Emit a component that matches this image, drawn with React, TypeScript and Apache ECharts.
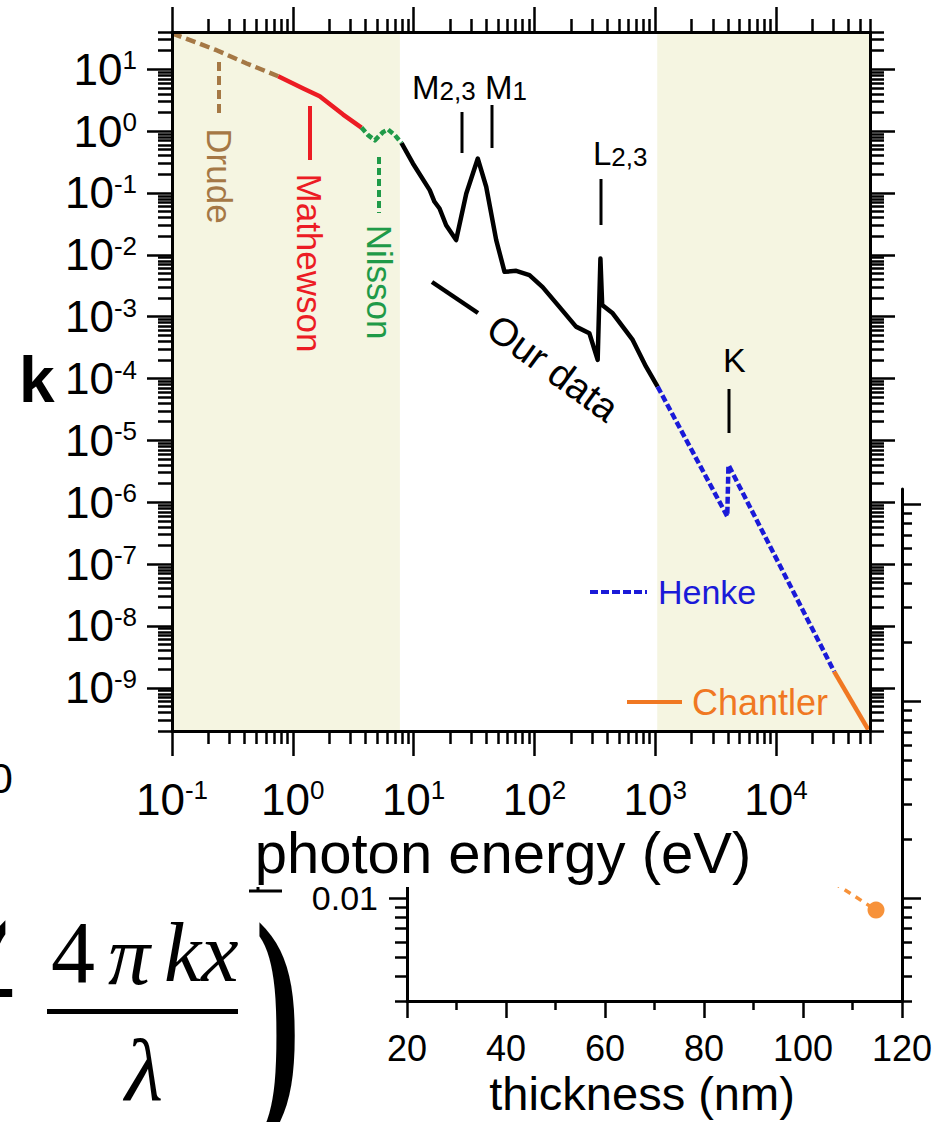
import React, { useEffect, useRef } from "react";
import * as echarts from "echarts";

const SANS = '"Liberation Sans", Arial, Helvetica, sans-serif';
const SERIF = '"Liberation Serif", "Times New Roman", serif';

// ---- main panel: extinction coefficient k versus photon energy (eV) ----
const drudeEnergy = [0.1, 0.234, 0.415, 0.757];
const drudeK = [38, 20.3, 12.4, 7.7];

const mathewsonEnergy = [0.757, 1.22, 1.67, 2.61, 3.7];
const mathewsonK = [7.7, 4.9, 3.66, 1.85, 1.14];

const nilssonEnergy = [3.7, 4.2, 4.78, 5.6, 6.15, 7.0, 7.95];
const nilssonK = [1.14, 0.86, 0.71, 0.97, 1.06, 0.86, 0.64];

const ourEnergy = [
  7.95, 9.87, 13.6, 14.9, 16.4, 18.6, 22.5, 27.3, 34.0, 39.9, 48.3, 56.6, 70.7,
  91, 117, 161, 221, 285, 334, 352, 364, 445, 651, 840, 1047,
];
const ourK = [
  0.64, 0.3, 0.111, 0.072, 0.056, 0.03, 0.0173, 0.098, 0.36, 0.126, 0.0173,
  0.0053, 0.0055, 0.0047, 0.003, 0.00144, 6.9e-4, 5.4e-4, 2.0e-4, 8.7e-3,
  1.55e-3, 1.13e-3, 4.2e-4, 1.55e-4, 7.4e-5,
];

const henkeEnergy = [1047, 3950, 4040, 30300];
const henkeK = [7.4e-5, 5.9e-7, 4.0e-6, 1.83e-9];

const chantlerEnergy = [30300, 58000];
const chantlerK = [1.83e-9, 2.1e-10];

// energy ranges taken from the literature (shaded)
const shadedRanges = [
  [0.1, 7.7],
  [1040, 60000],
];

const energyMin = 0.1;
const energyMax = 60000;
const kMin = 2e-10;
const kMax = 40;
const energyDecades = [-1, 0, 1, 2, 3, 4];
const kDecades = [-9, -8, -7, -6, -5, -4, -3, -2, -1, 0, 1];

// ---- inset panel: thickness (nm) ----
const thicknessMin = 20;
const thicknessMax = 120;
const insetMin = 0.003;
const insetMax = 1.2;
const insetDecades = [-2, -1, 0];
const insetLabelValues = [0.01];
const insetThickness = [104, 114.75];
const insetValue = [0.013, 0.0087];

const C = {
  drude: "#a57845",
  mathewson: "#ec1c24",
  nilsson: "#1f9a48",
  ours: "#000000",
  henke: "#1a1ad8",
  chantler: "#f07822",
  dot: "#f7923a",
  shade: "#f5f5e1",
};

const pow10 = (e: number) => Number(`1e${e}`);

function minorValues(min: number, max: number) {
  const out: number[] = [];
  const lo = Math.floor(Math.log10(min)) - 1;
  const hi = Math.ceil(Math.log10(max)) + 1;
  for (let e = lo; e <= hi; e++) {
    for (let m = 2; m <= 9; m++) {
      const v = Number(`${m}e${e}`);
      if (v >= min && v <= max) out.push(v);
    }
  }
  return out;
}

const zip = (xs: number[], ys: number[]) => xs.map((x, i) => [x, ys[i]]);

const powerLabel = (v: number) => `{b|10}{s|${Math.round(Math.log10(v))}}`;
const powerRich = {
  b: { fontSize: 44, lineHeight: 44, fontFamily: SANS, color: "#000" },
  s: { fontSize: 26, lineHeight: 24, verticalAlign: "top", fontFamily: SANS, color: "#000" },
};

const tickStyle = { color: "#000", width: 2.5 };
const lineStyle = { color: "#000", width: 3 };

function text(
  x: number,
  y: number,
  str: string,
  size: number,
  color: string,
  opts: any = {}
) {
  const {
    align = "left",
    rotation = 0,
    family = SANS,
    weight = "normal",
    style = "normal",
    scaleX = 1,
    rich,
    lineHeight,
  } = opts;
  return {
    type: "text",
    x,
    y,
    rotation,
    scaleX,
    z: 10,
    silent: true,
    style: {
      text: str,
      fill: color,
      fontSize: size,
      fontFamily: family,
      fontWeight: weight,
      fontStyle: style,
      lineHeight,
      align,
      textAlign: align,
      verticalAlign: "middle",
      textVerticalAlign: "middle",
      rich,
    },
  };
}

function seg(x1: number, y1: number, x2: number, y2: number, color: string, width: number, dash?: number[]) {
  return {
    type: "line",
    z: 10,
    silent: true,
    shape: { x1, y1, x2, y2 },
    style: { stroke: color, lineWidth: width, lineDash: dash },
  };
}

function edgeRich(size: number, sub: number) {
  return {
    m: { fontSize: size, lineHeight: size, fontFamily: SANS, color: "#000" },
    s: { fontSize: sub, lineHeight: sub, padding: [16, 0, 0, 0], verticalAlign: "bottom", fontFamily: SANS, color: "#000" },
  };
}

function mainOption(): any {
  const kMajor = kDecades.map(pow10);
  const eMajor = energyDecades.map(pow10);
  const kMinor = minorValues(kMin, kMax);
  const eMinor = minorValues(energyMin, energyMax);

  const xBase = {
    type: "log",
    logBase: 10,
    min: energyMin,
    max: energyMax,
    z: 4,
    splitLine: { show: false },
    minorTick: { show: false },
    minorSplitLine: { show: false },
  };
  const yBase = {
    type: "log",
    logBase: 10,
    min: kMin,
    max: kMax,
    z: 4,
    splitLine: { show: false },
    minorTick: { show: false },
    minorSplitLine: { show: false },
  };
  const major = (vals: number[]) => ({ show: true, inside: false, length: 25, customValues: vals, lineStyle: tickStyle });
  const minor = (vals: number[], len: number) => ({ show: true, inside: false, length: len, customValues: vals, lineStyle: tickStyle });

  const lineSeries = (name: string, xs: number[], ys: number[], color: string, dash?: number[]) => ({
    type: "line",
    name,
    z: 3,
    xAxisIndex: 0,
    yAxisIndex: 0,
    data: zip(xs, ys),
    symbol: "none",
    showSymbol: false,
    smooth: false,
    silent: true,
    lineStyle: { color, width: 4.5, type: dash || "solid", join: "round", cap: "butt" },
  });

  return {
    animation: false,
    backgroundColor: "#fff",
    grid: { left: 172, top: 32, width: 698, height: 699, containLabel: false, outerBoundsMode: "none" },
    xAxis: [
      {
        ...xBase,
        position: "bottom",
        axisLine: { show: true, lineStyle },
        axisTick: major(eMajor),
        axisLabel: { show: true, customValues: eMajor, formatter: powerLabel, margin: 46, rich: powerRich },
      },
      {
        ...xBase,
        position: "bottom",
        axisLine: { show: false },
        axisTick: minor(eMinor, 13),
        axisLabel: { show: false },
      },
      {
        ...xBase,
        position: "top",
        axisLine: { show: true, lineStyle },
        axisTick: major(eMajor),
        axisLabel: { show: false },
      },
      {
        ...xBase,
        position: "top",
        axisLine: { show: false },
        axisTick: minor(eMinor, 13),
        axisLabel: { show: false },
      },
    ],
    yAxis: [
      {
        ...yBase,
        position: "left",
        axisLine: { show: true, lineStyle },
        axisTick: major(kMajor),
        axisLabel: { show: true, customValues: kMajor, formatter: powerLabel, margin: 35, rich: powerRich },
      },
      {
        ...yBase,
        position: "left",
        axisLine: { show: false },
        axisTick: minor(kMinor, 14),
        axisLabel: { show: false },
      },
      {
        ...yBase,
        position: "right",
        axisLine: { show: true, lineStyle },
        axisTick: major(kMajor),
        axisLabel: { show: false },
      },
      {
        ...yBase,
        position: "right",
        axisLine: { show: false },
        axisTick: minor(kMinor, 14),
        axisLabel: { show: false },
      },
    ],
    series: [
      {
        type: "custom",
        name: "shade",
        z: 1,
        silent: true,
        xAxisIndex: 0,
        yAxisIndex: 0,
        data: shadedRanges,
        encode: { x: [0, 1] },
        renderItem: (_p: any, api: any) => {
          const a = api.coord([api.value(0), kMax]);
          const b = api.coord([api.value(1), kMin]);
          return {
            type: "rect",
            shape: { x: a[0], y: a[1], width: b[0] - a[0], height: b[1] - a[1] },
            style: { fill: C.shade },
          };
        },
      },
      lineSeries("Drude", drudeEnergy, drudeK, C.drude, [10, 5]),
      lineSeries("Mathewson", mathewsonEnergy, mathewsonK, C.mathewson),
      lineSeries("Nilsson", nilssonEnergy, nilssonK, C.nilsson, [6, 3]),
      lineSeries("Our data", ourEnergy, ourK, C.ours),
      lineSeries("Henke", henkeEnergy, henkeK, C.henke, [7, 3]),
      lineSeries("Chantler", chantlerEnergy, chantlerK, C.chantler),
    ],
    graphic: [
      // axis titles
      text(19, 380, "k", 64, "#000", { weight: "bold" }),
      text(503, 852, "photon energy (eV)", 58, "#000", { align: "center", lineHeight: 50 }),
      text(13, 778, "0", 43, "#000", { align: "right" }),

      // source labels
      seg(219, 62, 219, 117, C.drude, 4, [9, 5]),
      text(219, 176, "Drude", 35, C.drude, { align: "center", rotation: -Math.PI / 2 }),
      seg(310, 106, 310, 160, C.mathewson, 4),
      text(309, 263, "Mathewson", 35, C.mathewson, { align: "center", rotation: -Math.PI / 2 }),
      seg(379, 157, 379, 213, C.nilsson, 4, [7, 4]),
      text(379, 282, "Nilsson", 35, C.nilsson, { align: "center", rotation: -Math.PI / 2 }),

      seg(432, 282, 478, 313, "#000", 4.5),
      text(553, 368, "Our data", 39, "#000", { align: "center", rotation: -0.63 }),

      seg(590, 592, 647, 592, C.henke, 4, [8, 3]),
      text(658, 592, "Henke", 34, C.henke),
      seg(627, 702, 682, 702, C.chantler, 4),
      text(692, 702, "Chantler", 36, C.chantler),

      // absorption edges
      text(412, 87, "{m|M}{s|2,3}", 32, "#000", { rich: edgeRich(33, 26) }),
      seg(462, 112, 462, 153, "#000", 3),
      text(485, 87, "{m|M}{s|1}", 32, "#000", { rich: edgeRich(33, 26) }),
      seg(492, 105, 492, 148, "#000", 3),
      text(593, 153, "{m|L}{s|2,3}", 32, "#000", { rich: edgeRich(33, 26) }),
      seg(601, 179, 601, 225, "#000", 3),
      text(723, 360, "K", 34, "#000"),
      seg(729, 389, 729, 433, "#000", 3),
    ],
  };
}

function insetOption(): any {
  const majorVals = insetDecades.map(pow10);
  const minorVals = minorValues(insetMin, insetMax);
  const yBase = {
    type: "log",
    logBase: 10,
    min: insetMin,
    max: insetMax,
    splitLine: { show: false },
    minorTick: { show: false },
    minorSplitLine: { show: false },
  };
  return {
    animation: false,
    backgroundColor: "#fff",
    grid: { left: 407, top: 489, width: 495, height: 512, containLabel: false, outerBoundsMode: "none" },
    xAxis: [
      {
        type: "value",
        min: thicknessMin,
        max: thicknessMax,
        interval: 20,
        position: "bottom",
        axisLine: { show: true, onZero: false, lineStyle },
        axisTick: { show: true, inside: false, length: 17, lineStyle: tickStyle },
        minorTick: { show: true, splitNumber: 2, length: 9, lineStyle: tickStyle },
        splitLine: { show: false },
        minorSplitLine: { show: false },
        axisLabel: { show: true, fontSize: 36, fontFamily: SANS, color: "#000", margin: 29 },
      },
    ],
    yAxis: [
      {
        ...yBase,
        position: "left",
        axisLine: { show: true, lineStyle },
        axisTick: { show: true, inside: false, length: 18, customValues: majorVals, lineStyle: tickStyle },
        axisLabel: {
          show: true,
          customValues: insetLabelValues,
          formatter: (v: number) => v.toFixed(2),
          fontSize: 34,
          lineHeight: 28,
          padding: [7, 0, 0, 0],
          fontFamily: SANS,
          color: "#000",
          margin: 29,
        },
      },
      {
        ...yBase,
        position: "left",
        axisLine: { show: false },
        axisTick: { show: true, inside: false, length: 12, customValues: minorVals, lineStyle: tickStyle },
        axisLabel: { show: false },
      },
      {
        ...yBase,
        position: "right",
        axisLine: { show: true, lineStyle },
        axisTick: { show: true, inside: false, length: 19, customValues: majorVals, lineStyle: tickStyle },
        axisLabel: { show: false },
      },
      {
        ...yBase,
        position: "right",
        axisLine: { show: false },
        axisTick: { show: true, inside: false, length: 10, customValues: minorVals, lineStyle: tickStyle },
        axisLabel: { show: false },
      },
    ],
    series: [
      {
        type: "line",
        xAxisIndex: 0,
        yAxisIndex: 0,
        silent: true,
        data: insetThickness.map((t, i) =>
          i === insetThickness.length - 1
            ? { value: [t, insetValue[i]], symbol: "circle", symbolSize: 17 }
            : { value: [t, insetValue[i]], symbol: "none" }
        ),
        showSymbol: true,
        lineStyle: { color: C.dot, width: 3.5, type: [7, 6] },
        itemStyle: { color: C.dot },
      },
    ],
    graphic: [
      text(642, 1093, "thickness (nm)", 47, "#000", { align: "center" }),
      seg(249, 891, 282, 891, "#000", 3),
      seg(258, 886, 258, 892, "#000", 3),

      // attenuation factor fragment
      text(-13, 1010, "(", 250, "#000", { align: "center", family: SERIF, scaleX: 0.55, weight: "bold" }),
      text(20, 992, "\u2212", 160, "#000", { align: "right", family: SERIF }),
      text(51, 952, "4", 88, "#000", { family: SERIF }),
      text(108, 955, "\u03c0", 84, "#000", { family: SERIF, style: "italic" }),
      text(164, 952, "kx", 84, "#000", { family: SERIF, style: "italic" }),
      {
        type: "rect",
        z: 10,
        silent: true,
        shape: { x: 47, y: 1009, width: 191, height: 5 },
        style: { fill: "#000" },
      },
      text(125, 1070, "\u03bb", 88, "#000", { family: SERIF, style: "italic" }),
      text(278, 1012, ")", 250, "#000", { align: "center", family: SERIF, scaleX: 0.55, weight: "bold" }),
    ],
  };
}

export default function App() {
  const backRef = useRef<HTMLDivElement>(null);
  const frontRef = useRef<HTMLDivElement>(null);

  useEffect(() => {
    const back = echarts.init(backRef.current!, undefined, { renderer: "svg", width: 945, height: 1122 });
    const front = echarts.init(frontRef.current!, undefined, { renderer: "svg", width: 897, height: 887 });
    back.setOption(insetOption());
    front.setOption(mainOption());
    return () => {
      back.dispose();
      front.dispose();
    };
  }, []);

  return (
    <div style={{ position: "absolute", left: 0, top: 0, width: 945, height: 1122, background: "#fff", overflow: "hidden" }}>
      <div ref={backRef} style={{ position: "absolute", left: 0, top: 0, width: 945, height: 1122 }} />
      <div
        ref={frontRef}
        style={{ position: "absolute", left: 0, top: 0, width: 897, height: 887, background: "#fff", overflow: "hidden" }}
      />
    </div>
  );
}
